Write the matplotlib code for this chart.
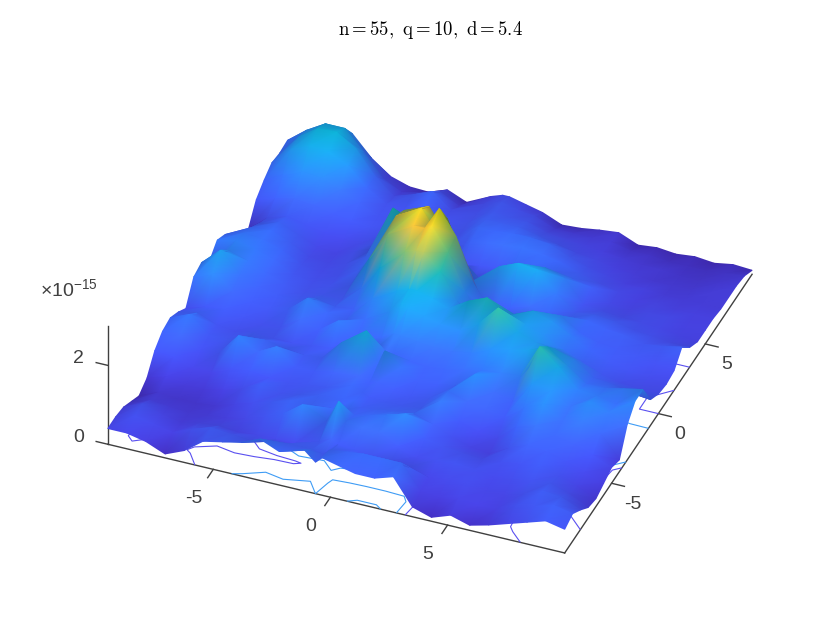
import numpy as np
import matplotlib
matplotlib.use("Agg")
import matplotlib.pyplot as plt
from matplotlib.collections import TriMesh
from matplotlib.colors import LinearSegmentedColormap
from matplotlib.tri import Triangulation
from mpl_toolkits.mplot3d import proj3d

plt.rcParams['font.family'] = ['Liberation Sans', 'DejaVu Sans']
plt.rcParams['mathtext.fontset'] = 'custom'
plt.rcParams['mathtext.rm'] = 'Liberation Sans'

title_text = r'$\mathrm{n{=}55,\ q{=}10,\ d{=}5.4}$'
exponent_text = r'$\times\mathrm{10}^{\mathrm{-15}}$'
x_ticks = [-5, 0, 5]
y_ticks = [-5, 0, 5]
z_ticks = [0, 2]

# grid, x is squeezed a bit around the twin peak
x_grid = [-9.5, -8.69, -7.88, -7.06, -6.25, -5.44, -4.63, -3.81, -3.0, -2.19,
          -1.13, -0.64, -0.35, 0.35, 1.06, 1.88, 2.69, 3.5, 4.31, 5.13, 5.94,
          6.75, 7.56, 8.38, 9.19, 10.0]
y_grid = [-10.0, -9.17, -8.33, -7.5, -6.67, -5.83, -5.0, -4.17, -3.33, -2.5,
          -1.67, -0.83, 0.0, 0.83, 1.67, 2.5, 3.33, 4.17, 5.0, 5.83,
          6.67, 7.5, 8.33, 9.17, 10.0]

# height in units of 1e-15, one row per y_grid value
z_rows = [
    [.40,.40,.30,.10,.30,.65,.75,.85,1.05,.85,1.05,.80,.95,.85,.75,.75,.90,.25,.10,.27,.13,.25,.40,.55,.70,.60],
    [.40,.55,.45,.35,.55,.70,.65,.60,.70,.75,.75,.70,.85,.90,.95,.95,.95,.35,.30,.40,.35,.35,.55,.65,.80,.70],
    [.35,.55,.40,.30,.40,.45,.40,.45,.45,.45,.65,.80,.70,.65,.60,.60,.55,.40,.45,.50,.40,.40,.55,.75,.70,.50],
    [.20,.35,.30,.25,.30,.35,.45,.60,.80,1.15,.90,1.45,1.00,.95,.90,.65,.50,.55,.60,.55,.45,.50,.60,.65,.50,.27],
    [.05,.25,.20,.20,.25,.40,.55,.70,.85,.85,.90,.95,.85,.95,1.05,1.20,.70,.60,.55,.50,.55,.60,.70,.55,.40,.20],
    [.20,.35,.25,.25,.35,.50,.75,.60,.70,.80,.85,.90,.75,.80,.85,.90,.75,.55,.40,.35,.60,.80,.75,.60,.45,.30],
    [.60,.55,.40,.40,.60,.65,.60,.60,.65,.70,.90,.80,.70,.70,.70,.75,1.05,.65,.50,.45,.85,1.00,.85,.75,.60,.40],
    [.80,.85,.55,.60,1.15,.85,1.10,.70,.70,.80,.85,.75,.80,.70,.65,.70,1.00,.85,.80,.70,1.05,1.25,.95,1.05,.85,.30],
    [.85,1.05,.65,.65,.80,.85,.75,.70,.75,1.25,1.70,.95,1.30,1.00,.75,.75,.85,1.25,.90,.80,1.35,1.30,1.00,1.25,1.10,.90],
    [.70,.80,.60,.55,.65,.60,.60,.65,.70,.80,.90,.95,.90,.85,.80,.85,.95,1.05,1.10,1.15,2.00,1.60,1.15,1.10,1.00,1.20],
    [.50,.65,.70,.60,.55,.60,.90,.75,1.10,.80,.95,1.10,1.10,1.05,1.00,1.00,1.10,1.30,1.40,1.50,1.70,1.35,1.00,1.00,1.10,1.20],
    [1.00,1.20,.85,.70,.65,.75,1.15,.90,.80,.95,1.30,1.55,1.50,1.40,1.30,1.25,1.55,2.05,1.55,1.40,1.35,1.20,.85,.80,.70,.65],
    [1.07,1.50,1.00,.80,.70,.70,.85,.75,.80,1.20,1.55,1.65,1.65,1.55,1.40,1.70,1.90,1.55,1.45,1.30,1.05,.85,.65,.55,.50,.50],
    [.80,1.20,1.05,.85,.70,.60,.65,.65,1.05,1.70,2.25,2.35,2.35,1.95,1.30,.80,1.10,1.30,1.50,1.35,1.10,.85,.70,.60,.50,.45],
    [1.05,1.15,1.05,.90,.65,.55,.60,.70,1.50,2.25,2.60,2.60,2.70,2.15,1.25,.55,.80,.90,1.15,1.20,.90,.75,.70,.65,.55,.50],
    [.90,1.05,1.00,.85,.60,.50,.55,.80,1.25,2.40,2.75,2.35,2.85,2.25,1.20,.50,.75,.90,.85,.85,.90,.80,.75,.65,.70,.80],
    [.55,.90,.95,.75,.50,.45,.55,.85,1.30,2.25,2.50,2.10,2.30,1.30,.50,1.40,1.60,1.55,1.05,.70,.75,.70,.60,.55,.50,.50],
    [.25,.70,.85,.65,.45,.40,.55,.75,1.90,1.70,1.40,1.00,.80,.60,.45,1.05,1.15,1.30,1.15,.60,.55,.50,.50,.45,.40,.35],
    [.15,.55,.70,.60,.50,.45,.50,.70,1.00,.70,.65,.60,.55,.60,.65,.90,.95,.90,.85,.75,.45,.40,.45,.45,.35,.35],
    [.60,.75,.85,.80,.70,.65,.60,.55,.70,.65,.60,.70,.85,.90,.95,1.00,.95,.85,.70,.55,.45,.35,.40,.35,.35,.35],
    [.80,1.05,1.25,1.20,1.00,.80,.60,.55,.65,.55,.60,.80,.90,.90,.95,.95,.90,.70,.55,.45,.35,.35,.30,.30,.30,.30],
    [.95,1.40,1.62,1.58,1.35,.90,.60,.60,.75,.55,.60,.75,.80,.80,.80,.70,.60,.50,.45,.35,.30,.25,.25,.25,.30,.30],
    [.90,1.42,1.75,1.78,1.48,.90,.50,.65,.85,.50,.55,.65,.70,.65,.65,.50,.45,.40,.35,.30,.25,.25,.20,.20,.25,.30],
    [.93,1.30,1.58,1.58,1.10,.55,.30,.40,.55,.30,.50,.60,.65,.55,.50,.30,.30,.30,.30,.20,.20,.15,.15,.15,.20,.25],
    [.70,1.00,1.20,1.15,.65,.30,.15,.13,.30,.10,.40,.50,.50,.40,.30,.10,.13,.20,.25,.05,.10,.05,.10,.05,.13,.10],
]
contour_levels = [0.5, 0.8]
contour_colors = ['#5a50f0', '#3f9cf5']

# parula, bent so that the low part stays blue like the picture
parula = LinearSegmentedColormap.from_list('parula', [
    (0.00, (.2422, .1504, .6603)), (0.12, (.2700, .2500, .8600)),
    (0.33, (.2300, .4200, 1.000)), (0.50, (.1300, .6000, .9300)),
    (0.63, (.0500, .6900, .8200)), (0.73, (.2000, .7400, .6000)),
    (0.85, (.8000, .7300, .2800)), (0.93, (.9800, .7500, .2000)),
    (1.00, (.9770, .9840, .0800))])

axis_color = '#404040'
elev, azim = 36.5, -68.2

X, Y = np.meshgrid(x_grid, y_grid)
Z = np.array(z_rows)

fig = plt.figure(figsize=(8.3, 6.23), dpi=100)
ax = fig.add_axes([0.002, 0.0144, 0.998, 0.9856], projection='3d', computed_zorder=False)
ax.patch.set_alpha(0)
ax.set_proj_type('ortho')
ax.view_init(elev=elev, azim=azim)
ax.set_xlim(-10, 10)
ax.set_ylim(-10, 10)
ax.set_zlim(0, 3)
ax.set_box_aspect((504, 504, 147), zoom=1.152)
ax.set_axis_off()

# axis lines and ticks, all below the surface
line_style = dict(color=axis_color, lw=1, zorder=1, clip_on=False)
ax.plot([-9.5, 10], [-10, -10], [0, 0], **line_style)
ax.plot([10, 10], [-10, 10], [0, 0], **line_style)
ax.plot([-9.5, -9.5], [-10, -10], [0, 3], **line_style)
for t in x_ticks:
    ax.plot([t, t], [-10, -10.6], [0, 0], **line_style)
    ax.text(t, -12.1, 0, str(t), fontsize=14, color=axis_color, ha='center', va='center')
for t in y_ticks:
    ax.plot([10, 10.55], [t, t], [0, 0], **line_style)
    ax.text(10.9, t, -0.4, str(t), fontsize=14, color=axis_color, ha='center', va='center')
for t in z_ticks:
    ax.plot([-9.5, -10], [-10, -10], [t, t], **line_style)
    ax.text(-10.75, -10, t, str(t), fontsize=14, color=axis_color, ha='center', va='center')

cs = ax.contour(X, Y, Z, levels=contour_levels, zdir='z', offset=0, colors=contour_colors,
                linewidths=0.8, zorder=2)
cs.set_clip_on(False)

# vertex colours with a light near the camera, as in a lit interpolated surf
dzdy, dzdx = np.gradient(Z, y_grid, x_grid)
k = 1.2
normals = np.dstack((-k * dzdx, -k * dzdy, np.ones_like(Z)))
normals /= np.linalg.norm(normals, axis=2, keepdims=True)
light_el, light_az = np.radians(60), np.radians(azim)
light = np.array([np.cos(light_el) * np.cos(light_az),
                  np.cos(light_el) * np.sin(light_az), np.sin(light_el)])
brightness = 0.55 + 0.55 * np.clip(normals @ light, 0, 1)
rgba = parula(Z / Z.max())
rgba[..., :3] = np.clip(rgba[..., :3] * brightness[..., None], 0, 1)

# project the vertices and paint triangles back to front
sx, sy, sz = proj3d.proj_transform(X.ravel(), Y.ravel(), Z.ravel(), ax.get_proj())
ny, nx = Z.shape
idx = np.arange(nx * ny).reshape(ny, nx)
a, b, c, d = idx[:-1, :-1].ravel(), idx[:-1, 1:].ravel(), idx[1:, 1:].ravel(), idx[1:, :-1].ravel()
triangles = np.vstack((np.column_stack((a, b, c)), np.column_stack((a, c, d))))
order = np.argsort(-sz[triangles].mean(axis=1))
mesh = TriMesh(Triangulation(sx, sy, triangles[order]))
mesh.set_facecolor(rgba.reshape(-1, 4))
mesh.set_zorder(3)
mesh.set_clip_on(False)
mesh.do_3d_projection = lambda: 0  # already projected, Axes3D.draw still calls this
ax.add_collection(mesh, autolim=False)

fig.text(430 / 830, 1 - 30 / 623, title_text, fontsize=13.5, ha='center', va='center',
         math_fontfamily='cm', color='black')
fig.text(40 / 830, 1 - 290 / 623, exponent_text, fontsize=14, ha='left', va='center',
         color=axis_color)

fig.savefig('out.png', dpi=100)
